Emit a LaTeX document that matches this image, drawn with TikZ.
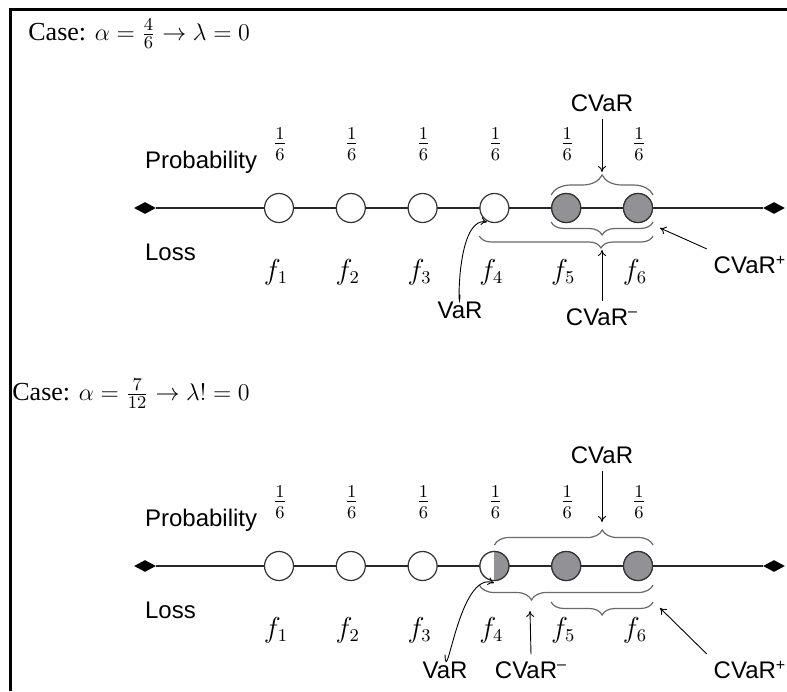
\documentclass[tikz,border=0pt]{standalone}
\usepackage{fontspec}
\setmainfont{Liberation Serif}
\newfontfamily\labelfont{Liberation Sans}
\usetikzlibrary{arrows.meta,shapes.geometric,decorations.pathreplacing}

\definecolor{ballgray}{RGB}{146,146,150}
\definecolor{bracegray}{RGB}{105,105,105}

\begin{document}
\begin{tikzpicture}[x=0.5pt, y=-0.5pt,
  every node/.style = {font=\fontsize{13.5}{16}\selectfont},
  ball/.style = {circle, draw=black!80, line width=0.6pt, fill=white,
    minimum size=14.5pt, inner sep=0pt},
  hit/.style = {ball, fill=ballgray},
  half/.style = {ball, path picture={\fill[ballgray]
    (path picture bounding box.north) rectangle (path picture bounding box.south east);}},
  tip/.style = {diamond, fill=black, inner sep=0pt,
    minimum width=11pt, minimum height=6pt},
  lbl/.style = {font=\labelfont\fontsize{12}{14}\selectfont},
  title/.style = {font=\fontsize{13}{15}\selectfont, inner sep=0pt, anchor=base west},
  curly/.style = {draw=bracegray, line width=0.6pt, decorate,
    decoration={brace, amplitude=#1}},
  curly/.default = 6pt,
  pointer/.style = {-{To[length=3pt,width=4pt]}, line width=0.45pt}]

  \useasboundingbox (0,0) rectangle (787,691);
  \draw[line width=1.5pt] (787,9) -- (10,9) -- (10,691);

  % first case
  \node[title] (case1) at (28,40) {Case: $\alpha=\frac{4}{6}\rightarrow\lambda=0$};
  \node[tip] (dl1) at (145,208) {};
  \node[tip] (dr1) at (774,208) {};
  \draw[line width=0.65pt, black!85] (dl1) -- (dr1);
  \foreach \i in {1,...,6} {
    \pgfmathsetmacro\xx{279+71.8*(\i-1)}
    \node[ball] (c\i) at (\xx,208) {};
    \node (p\i) at (\xx+1,144) {$\frac{1}{6}$};
    \node (f\i) at (\xx-3,272) {$f_{\i}$};
  }
  \node[hit] at (c5) {};
  \node[hit] at (c6) {};
  \node[lbl, anchor=west] (prob1) at (138,162) {Probability};
  \node[lbl, anchor=west] (loss1) at (138,252) {Loss};

  \draw[curly=10pt] ([yshift=6.5pt]c5.west) -- ([yshift=6.5pt]c6.east);
  \draw[curly=6.5pt] ([yshift=-7pt]c6.east) -- ([yshift=-7pt]c5.west);
  \draw[curly=6pt, decoration={aspect=0.3}] ([yshift=-14pt]c6.east) -- ([yshift=-14pt]c4.west);

  \node[lbl] (cvar1) at (602,103) {CVaR};
  \node[lbl] (cvarm1) at (602,317) {CVaR\textsuperscript{–}};
  \node[lbl] (cvarp1) at (750,265) {CVaR\textsuperscript{+}};
  \node[lbl] (var1) at (460,310) {VaR};
  \coordinate (t1) at (602,172);
  \coordinate (m1) at (602,250);
  \coordinate (q1) at (660,228);
  \coordinate (v1) at (487,222);
  \draw[pointer] (cvar1) -- (t1);
  \draw[pointer] (cvarm1.north) -- (m1);
  \draw[pointer] (cvarp1.north west) -- (q1);
  \draw[pointer] (var1.north) to[out=-92, in=170, looseness=1.1] (v1);

  % second case
  \node[title] (case2) at (12,400) {Case: $\alpha=\frac{7}{12}\rightarrow\lambda!=0$};
  \node[tip] (dl2) at (145,566) {};
  \node[tip] (dr2) at (774,566) {};
  \draw[line width=0.65pt, black!85] (dl2) -- (dr2);
  \foreach \i in {1,...,6} {
    \pgfmathsetmacro\xx{279+71.8*(\i-1)}
    \node[ball] (d\i) at (\xx,566) {};
    \node (q\i) at (\xx+1,502) {$\frac{1}{6}$};
    \node (g\i) at (\xx-3,630) {$f_{\i}$};
  }
  \node[half] at (d4) {};
  \node[hit] at (d5) {};
  \node[hit] at (d6) {};
  \node[lbl, anchor=west] (prob2) at (138,520) {Probability};
  \node[lbl, anchor=west] (loss2) at (138,610) {Loss};

  \draw[curly=7.5pt, decoration={aspect=0.68}] ([yshift=10.5pt]d4.center) -- ([yshift=10.5pt]d6.east);
  \draw[curly=7.5pt, decoration={aspect=0.7}] ([yshift=-9.5pt]d6.east) -- ([yshift=-9.5pt]d4.west);
  \draw[curly=6.5pt] ([yshift=-18pt]d6.east) -- ([yshift=-18pt]d5.west);

  \node[lbl] (cvar2) at (602,455) {CVaR};
  \node[lbl] (cvarm2) at (531,670) {CVaR\textsuperscript{–}};
  \node[lbl] (cvarp2) at (750,670) {CVaR\textsuperscript{+}};
  \node[lbl] (var2) at (445,670) {VaR};
  \coordinate (t2) at (602,522);
  \coordinate (m2) at (530,611);
  \coordinate (n2) at (660,608);
  \coordinate (v2) at (494,583);
  \draw[pointer] (cvar2) -- (t2);
  \draw[pointer] (cvarm2.north) -- (m2);
  \draw[pointer] (cvarp2.north west) -- (n2);
  \draw[pointer] (var2.north) to[out=-88, in=160, looseness=1.1] (v2);
\end{tikzpicture}
\end{document}
